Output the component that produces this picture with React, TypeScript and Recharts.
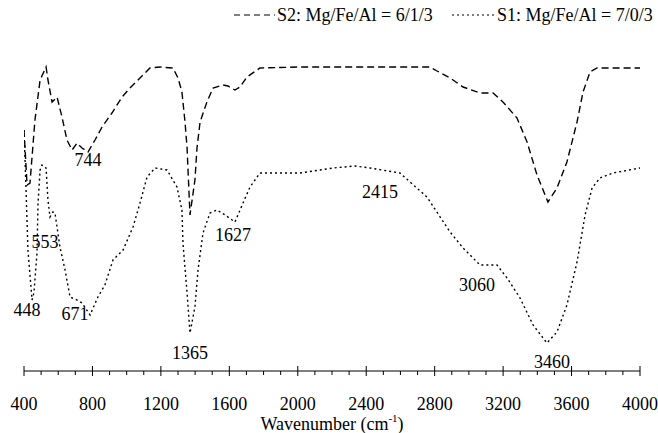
import {
  LineChart,
  Line,
  XAxis,
  YAxis,
  Legend,
  ReferenceDot,
  Label,
} from "recharts";

// S2: Mg/Fe/Al = 6/1/3 (dashed)
const s2Wave = [
  400, 418, 435, 464, 494, 529, 540, 564, 593, 622, 651, 681, 710, 739, 774,
  815, 856, 914, 973, 1019, 1078, 1136, 1195, 1271, 1300, 1323, 1341, 1353,
  1370, 1399, 1411, 1429, 1469, 1505, 1563, 1592, 1633, 1662, 1703, 1779, 2013,
  2773, 2814, 2890, 2966, 3065, 3141, 3199, 3281, 3340, 3398, 3462, 3515, 3573,
  3632, 3667, 3708, 3749, 4000,
];
const s2T = [
  241, 186, 188, 251, 291, 304, 291, 269, 274, 254, 231, 221, 228, 223, 219,
  231, 244, 258, 274, 283, 293, 303, 304, 303, 293, 279, 249, 223,
  156, 191, 223, 249, 269, 283, 286, 285, 281, 284, 294, 303, 304,
  304, 300, 293, 284, 278, 278, 269, 253, 229, 196, 169, 183, 209,
  249, 279, 299, 303, 303,
];

// S1: Mg/Fe/Al = 7/0/3 (dotted)
const s1Wave = [
  400, 412, 423, 447, 458, 476, 482, 494, 505, 529, 540, 552, 569, 581, 610,
  640, 669, 710, 739, 786, 832, 873, 920, 979, 1037, 1078, 1119, 1166, 1236,
  1294, 1323, 1329, 1353, 1370, 1399, 1417, 1446, 1487, 1528, 1575, 1633, 1680,
  1721, 1779, 2013, 2206, 2334, 2422, 2597, 2755, 2890, 2966, 3065, 3164, 3223,
  3299, 3375, 3456, 3515, 3573, 3632, 3679, 3720, 3766, 3842, 4000,
];
const s1T = [
  241, 181, 121, 71, 78, 118, 168, 201, 206, 203, 171, 154, 159, 158, 124,
  101, 74, 71, 68, 56, 74, 86, 111, 121, 144, 168, 194, 203, 201,
  184, 161, 128, 78, 38, 64, 101, 138, 158, 161, 156, 149, 168,
  184, 198, 198, 203, 205, 203, 198, 174, 139, 123, 106, 106, 93,
  73, 46, 28, 39, 66, 109, 156, 183, 193, 198, 203,
];

// peak annotations
const peakText = ["744", "553", "448", "671", "1365", "1627", "2415", "3060", "3460"];
const peakWave = [774, 523, 418, 698, 1370, 1621, 2480, 3047, 3486];
const peakT = [211, 129, 61, 57, 18, 136, 179, 86, 9];

const majorTicks = [400, 800, 1200, 1600, 2000, 2400, 2800, 3200, 3600, 4000];
const allTicks = majorTicks.flatMap((t) =>
  t < 4000 ? [t, t + 100, t + 200, t + 300] : [t]
);

const s2Data = s2Wave.map((w, i) => ({ w, t: s2T[i] }));
const s1Data = s1Wave.map((w, i) => ({ w, t: s1T[i] }));

const font = "'Liberation Serif', 'Times New Roman', serif";

function AxisTick({ x, y, payload }: any) {
  const major = payload.value % 400 === 0;
  return (
    <g>
      <line
        x1={x}
        x2={x}
        y1={major ? y - 5 : y}
        y2={major ? y + 5 : y + 4}
        stroke="#000"
      />
      {major && (
        <text
          x={x}
          y={y + 39}
          textAnchor="middle"
          fontSize={18}
          fontFamily={font}
          fill="#000"
        >
          {payload.value}
        </text>
      )}
    </g>
  );
}

function AxisTitle({ viewBox }: any) {
  const cx = viewBox.x + viewBox.width / 2;
  return (
    <text
      x={cx}
      y={viewBox.y + 59}
      textAnchor="middle"
      fontSize={18}
      fontFamily={font}
      fill="#000"
    >
      Wavenumber (cm
      <tspan fontSize={11} dy={-8}>
        -1
      </tspan>
      <tspan dy={8}>)</tspan>
    </text>
  );
}

function LegendBox() {
  return (
    <svg width={430} height={30}>
      <line x1={4} x2={45} y1={15} y2={15} stroke="#000" strokeWidth={1.2} strokeDasharray="6 4" />
      <text x={47} y={21} fontSize={18} fontFamily={font} fill="#000">
        S2: Mg/Fe/Al = 6/1/3
      </text>
      <line x1={222} x2={265} y1={15} y2={15} stroke="#000" strokeWidth={1.2} strokeDasharray="2 3" />
      <text x={267} y={21} fontSize={18} fontFamily={font} fill="#000">
        S1: Mg/Fe/Al = 7/0/3
      </text>
    </svg>
  );
}

export default function App() {
  return (
    <div style={{ position: "absolute", left: 0, top: 0, background: "#fff" }}>
      <LineChart
        width={658}
        height={433}
        margin={{ top: 40, right: 18, left: 24, bottom: 0 }}
      >
        <XAxis
          dataKey="w"
          type="number"
          domain={[400, 4000]}
          ticks={allTicks}
          interval={0}
          tickLine={false}
          tickSize={0}
          tickMargin={0}
          height={62}
          tick={<AxisTick />}
          axisLine={{ stroke: "#000", strokeWidth: 1 }}
          allowDataOverflow
        >
          <Label content={<AxisTitle />} />
        </XAxis>
        <YAxis hide type="number" domain={[0, 331]} dataKey="t" />
        <Legend
          layout="horizontal"
          verticalAlign="middle"
          align="center"
          wrapperStyle={{ top: 0, left: 230, width: 430, height: 30 }}
          content={<LegendBox />}
        />
        <Line
          data={s2Data}
          dataKey="t"
          name="S2: Mg/Fe/Al = 6/1/3"
          type="linear"
          stroke="#000"
          strokeWidth={1.4}
          strokeDasharray="7 4"
          dot={false}
          activeDot={false}
          isAnimationActive={false}
        />
        <Line
          data={s1Data}
          dataKey="t"
          name="S1: Mg/Fe/Al = 7/0/3"
          type="linear"
          stroke="#000"
          strokeWidth={1.4}
          strokeDasharray="2 3"
          dot={false}
          activeDot={false}
          isAnimationActive={false}
        />
        {peakText.map((txt, i) => (
          <ReferenceDot
            key={txt}
            x={peakWave[i]}
            y={peakT[i]}
            r={0}
            fill="none"
            stroke="none"
            ifOverflow="visible"
            label={({ viewBox }: any) => (
              <text
                x={viewBox.x + viewBox.width / 2}
                y={viewBox.y + viewBox.height / 2}
                dy="0.35em"
                textAnchor="middle"
                fontSize={18}
                fontFamily={font}
                fill="#000"
              >
                {txt}
              </text>
            )}
          />
        ))}
      </LineChart>
    </div>
  );
}
